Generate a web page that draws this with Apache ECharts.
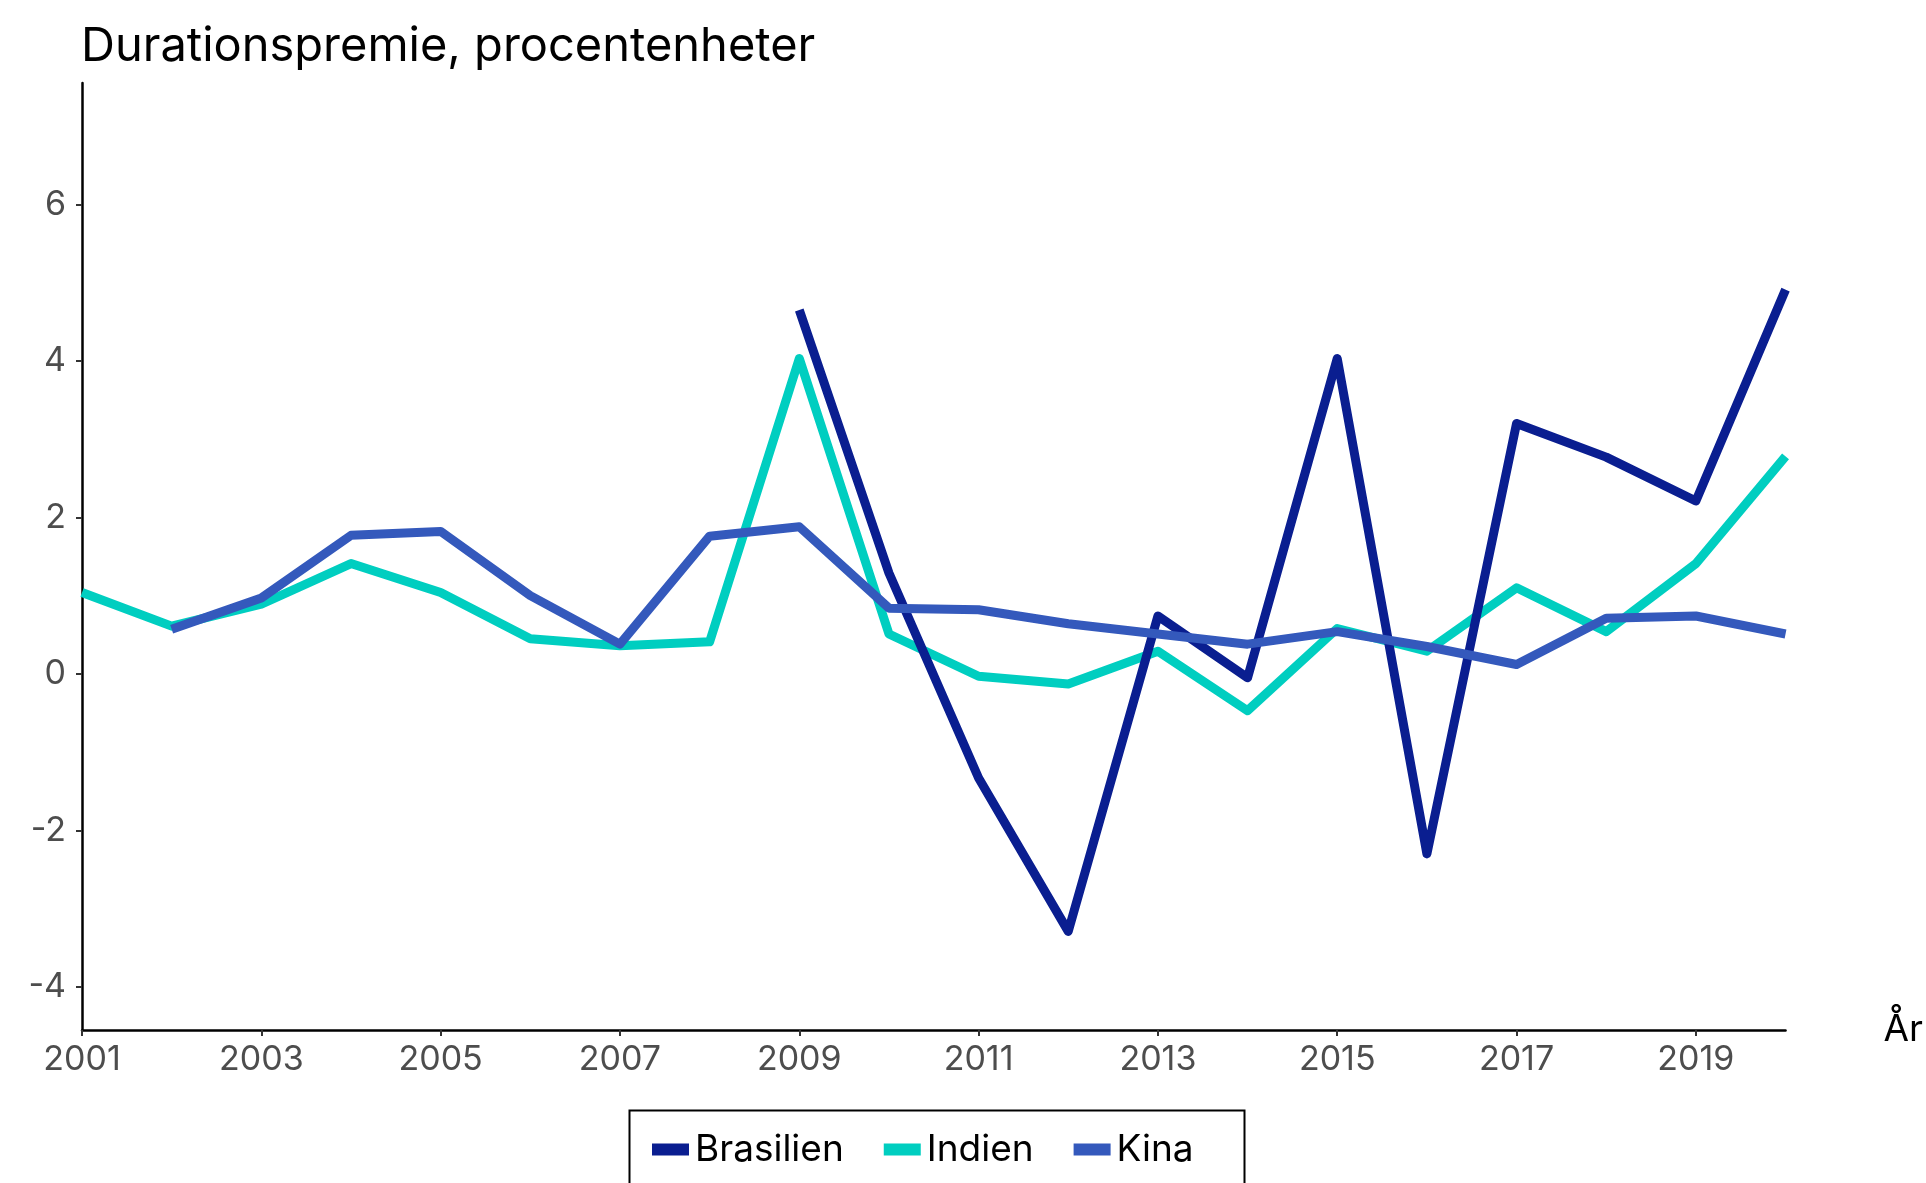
<!DOCTYPE html>
<html>
<head>
<meta charset="utf-8">
<script src="https://cdn.jsdelivr.net/npm/echarts@6/dist/echarts.min.js"></script>
<style>
html,body{margin:0;padding:0;background:#fff;}
#chart{width:1926px;height:1183px;}
</style>
</head>
<body>
<div id="chart"></div>
<script>
const years = ['2001','2002','2003','2004','2005','2006','2007','2008','2009','2010','2011','2012','2013','2014','2015','2016','2017','2018','2019','2020'];
const brasilien = [null,null,null,null,null,null,null,null,4.65,1.29,-1.33,-3.29,0.74,-0.05,4.03,-2.30,3.20,2.77,2.21,4.91];
const indien = [1.04,0.61,0.89,1.41,1.04,0.45,0.36,0.41,4.03,0.51,-0.03,-0.13,0.29,-0.47,0.58,0.29,1.10,0.54,1.41,2.78];
const kina = [null,0.57,0.97,1.77,1.82,1.00,0.38,1.76,1.88,0.84,0.82,0.64,0.51,0.38,0.54,0.35,0.12,0.71,0.74,0.51];
const yTicks = [-4,-2,0,2,4,6];
const titleText = 'Durationspremie, procentenheter';
const xName = 'År';

const FONT = 'Inter';
const chart = echarts.init(document.getElementById('chart'));
const lineBase = {type:'line', showSymbol:false, symbol:'none', connectNulls:false};
chart.setOption({
  animation:false,
  backgroundColor:'#ffffff',
  title:{text:titleText, left:76, top:18, textStyle:{fontFamily:FONT, fontSize:47, fontWeight:'normal', color:'#000'}},
  grid:{left:82, right:139, top:83, bottom:153, containLabel:false},
  legend:{
    data:['Brasilien','Indien','Kina'],
    left:647, top:1126, icon:'rect', itemWidth:37, itemHeight:12, itemGap:40,
    textStyle:{fontFamily:FONT, fontSize:37, color:'#000', padding:[0,0,0,1]}
  },
  graphic:[{type:'rect', left:627, top:1108, shape:{width:615, height:100}, style:{fill:'none', stroke:'#000', lineWidth:2}}],
  xAxis:{
    type:'category', data:years, boundaryGap:false,
    name:xName, nameLocation:'end', nameGap:98,
    nameTextStyle:{fontFamily:FONT, fontSize:37, color:'#000'},
    axisLine:{onZero:false, lineStyle:{color:'#000', width:2.5}},
    axisTick:{interval:1, length:6, lineStyle:{color:'#333', width:2}},
    axisLabel:{interval:1, margin:13, fontFamily:FONT, fontSize:34, color:'#4d4d4d'},
    splitLine:{show:false}
  },
  yAxis:{
    type:'value', min:-4.55, max:7.55,
    axisLine:{show:true, onZero:false, lineStyle:{color:'#000', width:2.5}},
    axisTick:{show:true, length:6, customValues:yTicks, lineStyle:{color:'#333', width:2}},
    axisLabel:{customValues:yTicks, margin:16, fontFamily:FONT, fontSize:34, color:'#4d4d4d'},
    splitLine:{show:false}
  },
  series:[
    Object.assign({}, lineBase, {name:'Brasilien', data:brasilien, z:3, color:'#0A1E90', lineStyle:{width:9, color:'#0A1E90', cap:'butt', join:'round'}}),
    Object.assign({}, lineBase, {name:'Indien', data:indien, z:2, color:'#00CEC0', lineStyle:{width:9, color:'#00CEC0', cap:'butt', join:'round'}}),
    Object.assign({}, lineBase, {name:'Kina', data:kina, z:4, color:'#3459BC', lineStyle:{width:9, color:'#3459BC', cap:'butt', join:'round'}})
  ]
});
</script>
</body>
</html>
